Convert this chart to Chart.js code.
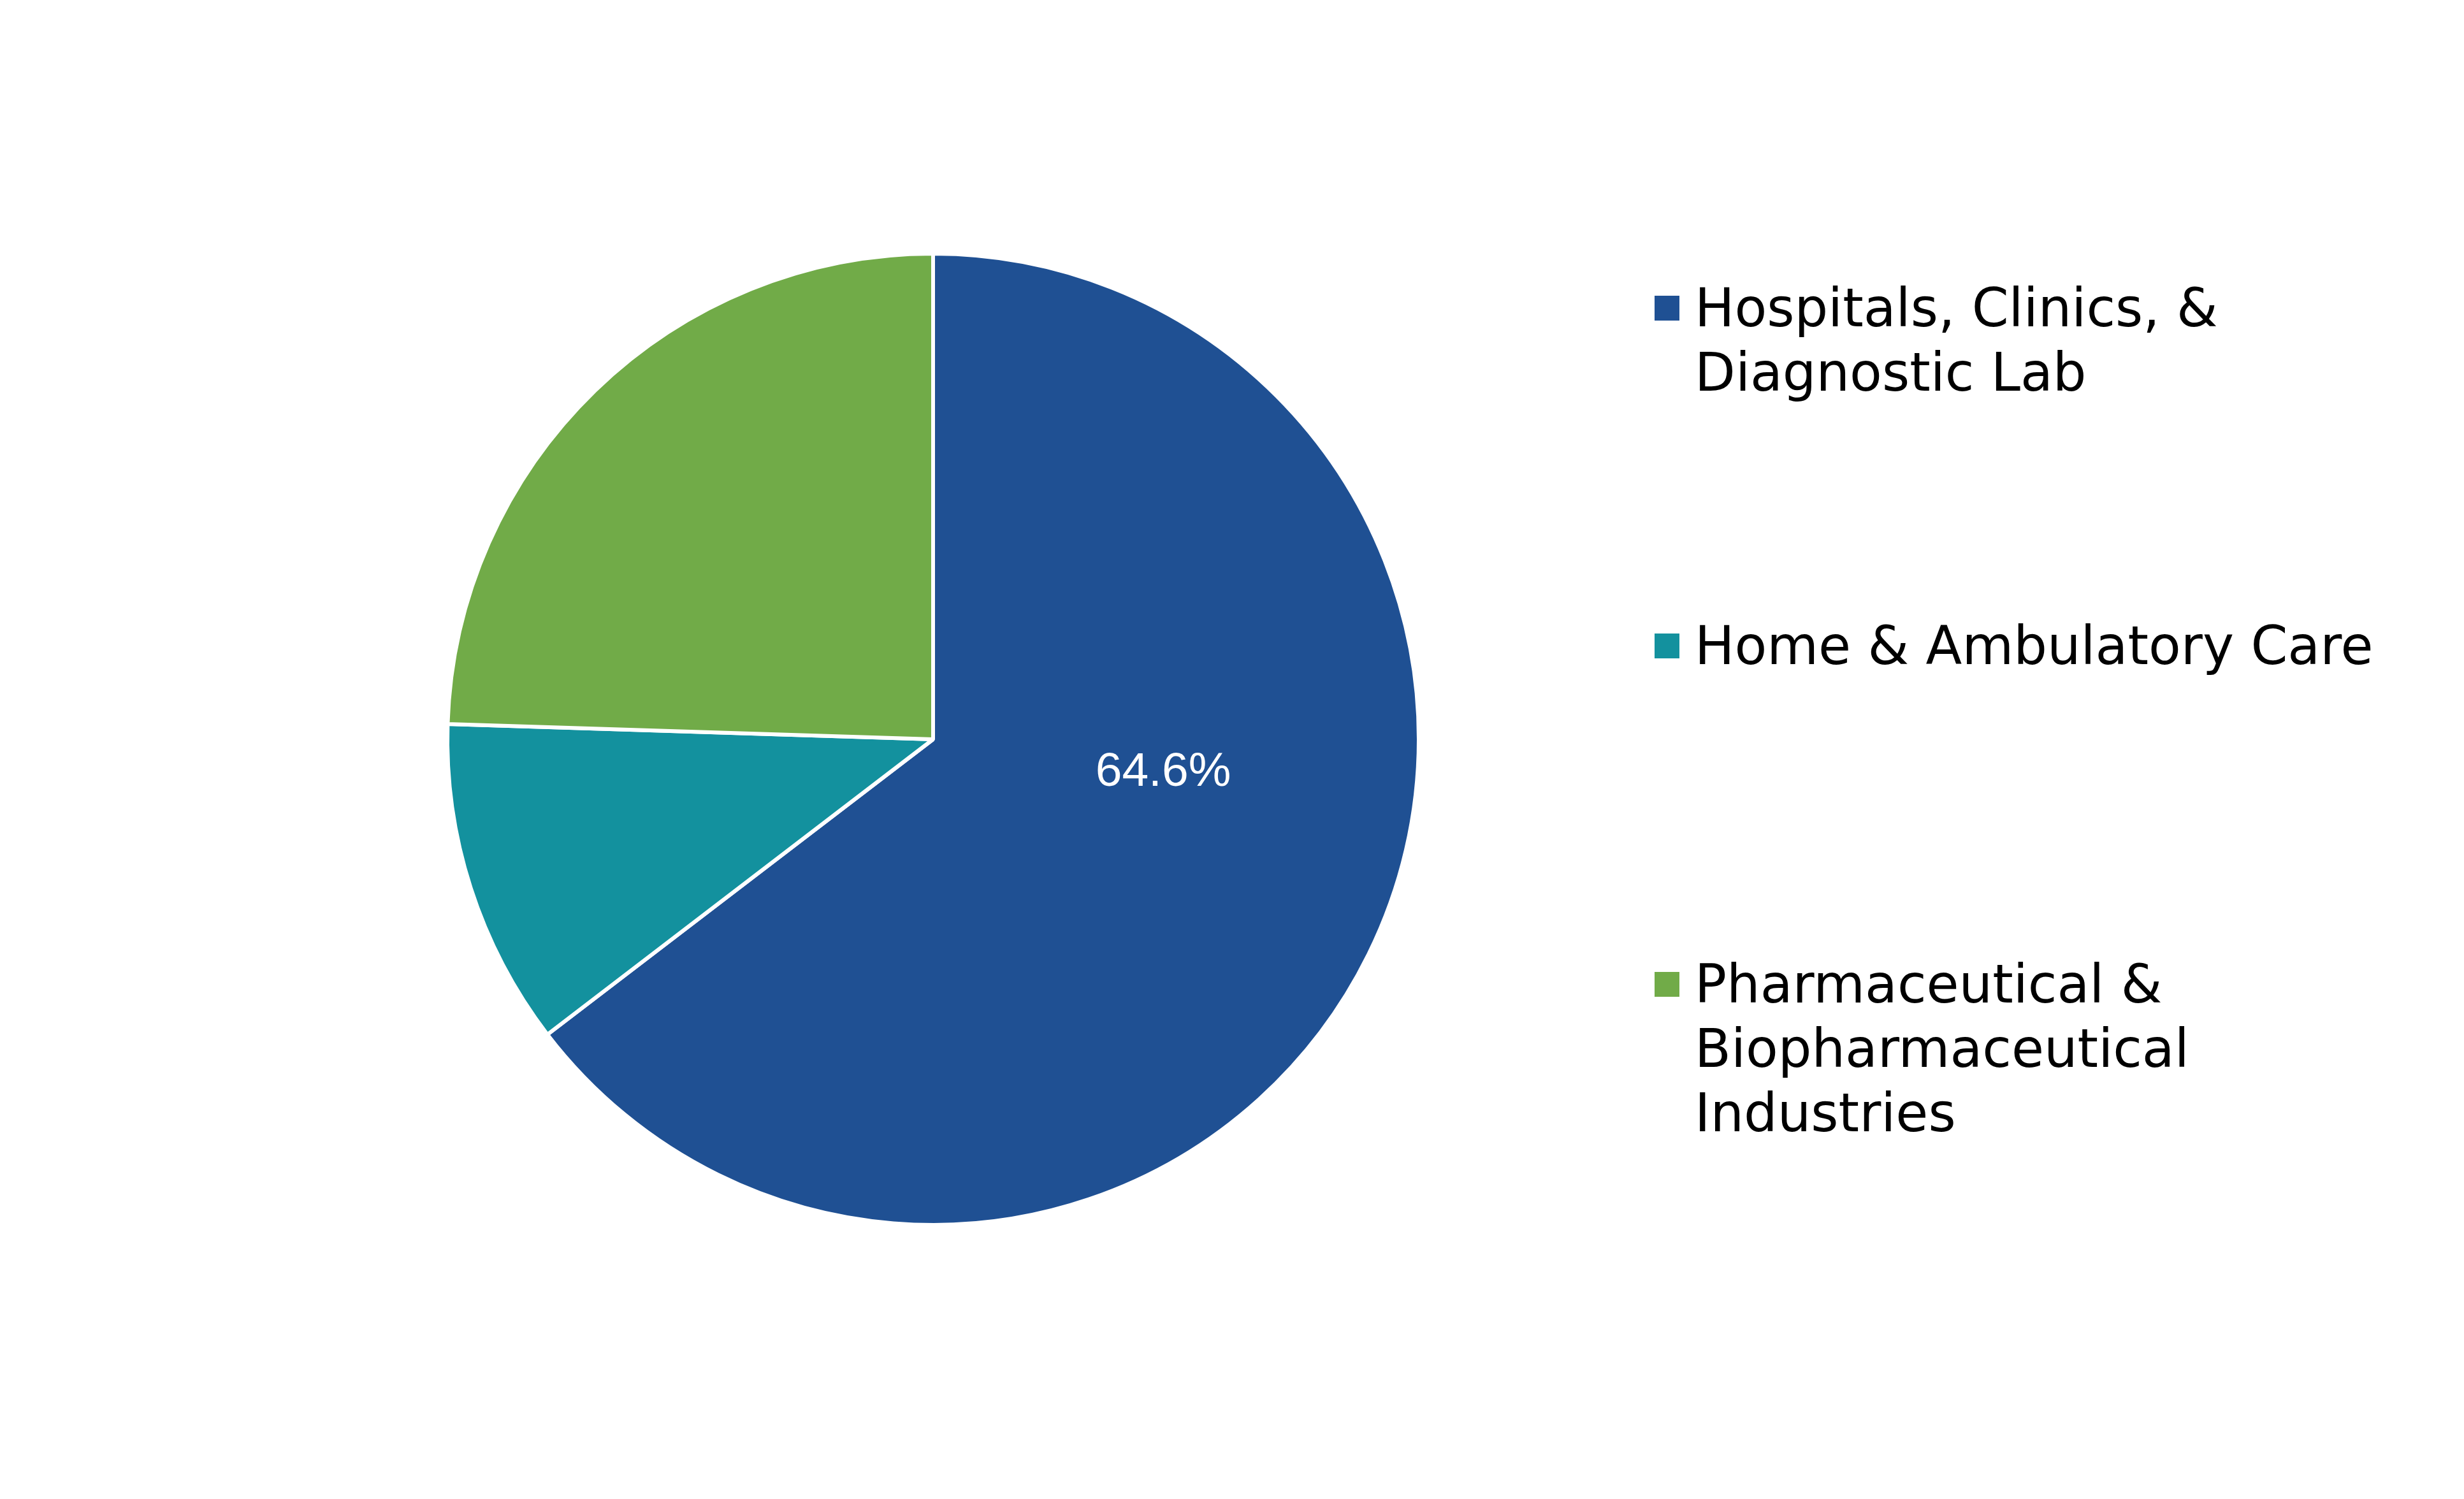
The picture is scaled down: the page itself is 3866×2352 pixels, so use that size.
<!DOCTYPE html>
<html>
<head>
<meta charset="utf-8">
<script src="https://cdn.jsdelivr.net/npm/chart.js@4/dist/chart.umd.min.js"></script>
<style>
  html, body { margin: 0; padding: 0; background: #ffffff; }
  #wrap { position: relative; width: 3866px; height: 2352px; overflow: hidden; }
  #c { position: absolute; left: 0; top: 0; }
  .lg-item { position: absolute; font-family: "DejaVu Sans", Verdana, sans-serif; font-size: 83px; line-height: 101px; color: #000; white-space: nowrap; }
  .lg-mark { position: absolute; width: 39px; height: 39px; }
</style>
</head>
<body>
<div id="wrap">
  <canvas id="c" width="3866" height="2352"></canvas>
</div>
<script>
// ---- data ----
const categories = [
  ["Hospitals, Clinics, &", "Diagnostic Lab"],
  ["Home & Ambulatory Care"],
  ["Pharmaceutical &", "Biopharmaceutical", "Industries"]
];
const shares = [64.6, 10.9, 24.5];
const shownLabels = ["64.6%", "", ""];
const colors = ["#1F5093", "#13919E", "#71AB48"];

// ---- legend (HTML text) ----
const wrap = document.getElementById('wrap');
const legendBaselines = [512, 1042, 1573];
categories.forEach((lines, i) => {
  const m = document.createElement('div');
  m.className = 'lg-mark';
  m.style.left = '2596px';
  m.style.top = (legendBaselines[i] - 48) + 'px';
  m.style.background = colors[i];
  wrap.appendChild(m);
  const t = document.createElement('div');
  t.className = 'lg-item';
  t.style.left = '2659px';
  t.style.top = (legendBaselines[i] - 79) + 'px';
  t.innerHTML = lines.map(s => s.replace(/&/g, '&amp;')).join('<br>');
  wrap.appendChild(t);
});

// ---- value label plugin ----
const valueLabels = {
  id: 'valueLabels',
  afterDatasetsDraw(chart) {
    const ctx = chart.ctx;
    const meta = chart.getDatasetMeta(0);
    ctx.save();
    ctx.fillStyle = '#ffffff';
    ctx.font = '75px "Liberation Sans", Arial, sans-serif';
    ctx.textAlign = 'center';
    ctx.textBaseline = 'alphabetic';
    meta.data.forEach((arc, i) => {
      if (!shownLabels[i]) return;
      ctx.fillText(shownLabels[i], arc.x + 361, arc.y + 73);
    });
    ctx.restore();
  }
};

new Chart(document.getElementById('c'), {
  type: 'pie',
  data: {
    labels: categories.map(l => l.join(' ')),
    datasets: [{
      data: shares,
      backgroundColor: colors,
      borderColor: '#ffffff',
      borderWidth: 6,
      hoverOffset: 0
    }]
  },
  options: {
    responsive: false,
    animation: false,
    radius: 762,
    layout: { padding: { left: 0, top: 0, right: 938, bottom: 32 } },
    plugins: {
      legend: { display: false },
      tooltip: { enabled: false }
    }
  },
  plugins: [valueLabels]
});
</script>
</body>
</html>
